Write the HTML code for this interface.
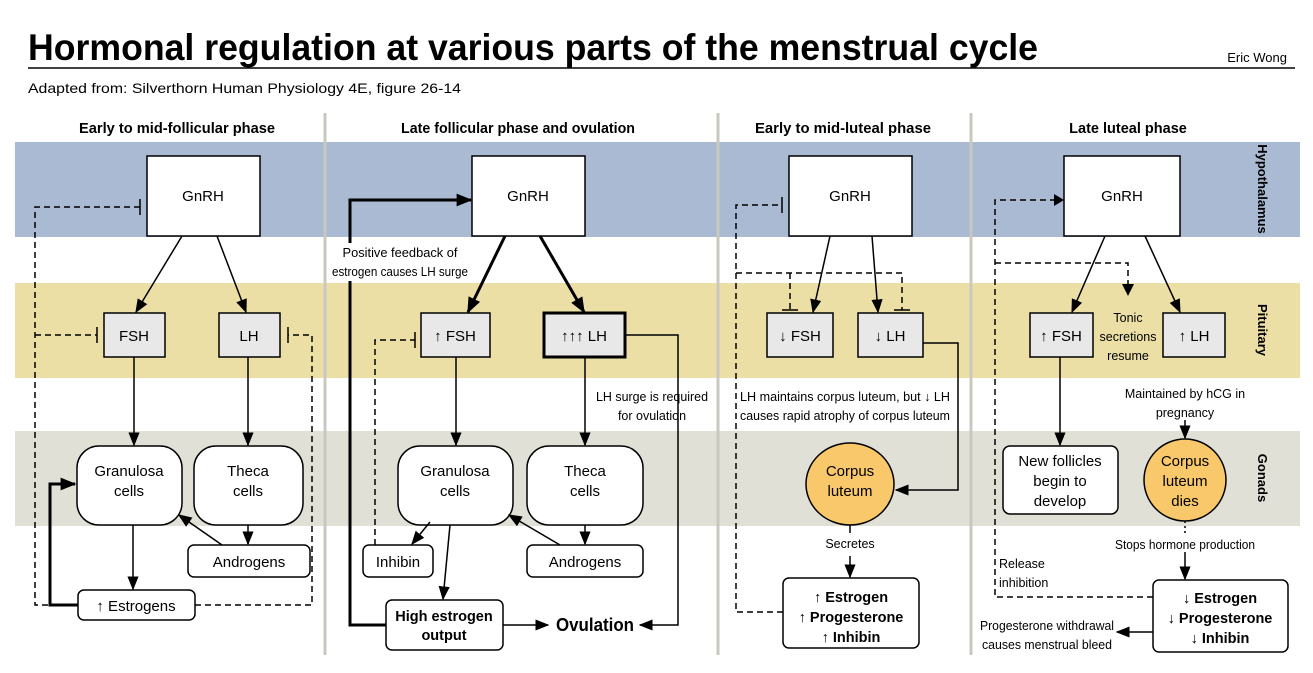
<!DOCTYPE html>
<html><head><meta charset="utf-8"><style>
html,body{margin:0;padding:0;background:#fff;}
svg{display:block;font-family:"Liberation Sans",sans-serif;}
</style></head><body>
<svg width="1313" height="673" viewBox="0 0 1313 673" xmlns="http://www.w3.org/2000/svg">
<defs>
<marker id="ab" viewBox="0 0 10 10" refX="9" refY="5" markerWidth="16" markerHeight="16" orient="auto" markerUnits="userSpaceOnUse"><path d="M0,1 L10,5 L0,9 z" fill="#000"/></marker>
<marker id="am" viewBox="0 0 10 10" refX="9" refY="5" markerWidth="14" markerHeight="14" orient="auto" markerUnits="userSpaceOnUse"><path d="M0,1 L10,5 L0,9 z" fill="#000"/></marker>
</defs>
<text x="28" y="60" font-size="37" font-weight="bold" textLength="1010" lengthAdjust="spacingAndGlyphs">Hormonal regulation at various parts of the menstrual cycle</text>
<text x="1287" y="62" font-size="13" text-anchor="end">Eric Wong</text>
<line x1="28" y1="68" x2="1295" y2="68" stroke="#000" stroke-width="1.5"/>
<text x="28" y="93" font-size="14" textLength="433" lengthAdjust="spacingAndGlyphs">Adapted from: Silverthorn Human Physiology 4E, figure 26-14</text>
<rect x="15" y="142" width="1285" height="95" fill="#aabad2"/>
<rect x="15" y="283" width="1285" height="95" fill="#ebdfa6"/>
<rect x="15" y="431" width="1285" height="95" fill="#e0e0d6"/>
<g stroke="#c8c8c0" stroke-width="3">
<line x1="325" y1="113" x2="325" y2="655"/><line x1="718" y1="113" x2="718" y2="655"/><line x1="971" y1="113" x2="971" y2="655"/>
</g>
<g font-size="14.5" font-weight="bold" text-anchor="middle">
<text x="177" y="133" textLength="196" lengthAdjust="spacingAndGlyphs">Early to mid-follicular phase</text>
<text x="518" y="133" textLength="234" lengthAdjust="spacingAndGlyphs">Late follicular phase and ovulation</text>
<text x="843" y="133" textLength="176" lengthAdjust="spacingAndGlyphs">Early to mid-luteal phase</text>
<text x="1128" y="133">Late luteal phase</text>
</g>
<g font-size="13" font-weight="bold" text-anchor="middle">
<text transform="translate(1258,189) rotate(90)">Hypothalamus</text>
<text transform="translate(1258,330) rotate(90)">Pituitary</text>
<text transform="translate(1258,478) rotate(90)">Gonads</text>
</g>
<g stroke="#000" stroke-width="1.5" fill="#fff">
<rect x="147" y="156" width="113" height="80"/>
<rect x="472" y="156" width="113" height="80"/>
<rect x="789" y="156" width="123" height="80"/>
<rect x="1064" y="156" width="116" height="80"/>
<g fill="#e8e8e8">
<rect x="104" y="313" width="61" height="44"/>
<rect x="219" y="313" width="61" height="44"/>
<rect x="421" y="313" width="69" height="44"/>
<rect x="544" y="313" width="81" height="44" stroke-width="3"/>
<rect x="767" y="313" width="66" height="44"/>
<rect x="858" y="313" width="65" height="44"/>
<rect x="1030" y="313" width="63" height="44"/>
<rect x="1163" y="313" width="62" height="44"/>
</g>
<rect x="77" y="446" width="105" height="79" rx="22"/>
<rect x="194" y="446" width="109" height="79" rx="22"/>
<rect x="398" y="446" width="115" height="79" rx="22"/>
<rect x="527" y="446" width="116" height="79" rx="22"/>
<rect x="188" y="545" width="122" height="32" rx="6"/>
<rect x="78" y="590" width="117" height="30" rx="6"/>
<rect x="363" y="545" width="70" height="32" rx="6"/>
<rect x="527" y="545" width="116" height="32" rx="6"/>
<rect x="386" y="600" width="117" height="50" rx="6"/>
<rect x="783" y="578" width="136" height="70" rx="6"/>
<rect x="1003" y="446" width="115" height="68" rx="7"/>
<rect x="1153" y="580" width="135" height="72" rx="6"/>
<ellipse cx="850" cy="484" rx="44" ry="41" fill="#f8c86a"/>
<ellipse cx="1185" cy="480" rx="41" ry="41" fill="#f8c86a"/>
</g>
<g stroke="#000" stroke-width="1.5" fill="none" marker-end="url(#am)">
<line x1="182" y1="236" x2="136" y2="312"/>
<line x1="217" y1="236" x2="246" y2="312"/>
<line x1="134" y1="357" x2="134" y2="445"/>
<line x1="248" y1="357" x2="248" y2="445"/>
<line x1="133" y1="525" x2="133" y2="589"/>
<line x1="248" y1="525" x2="248" y2="544"/>
<line x1="222" y1="545" x2="179" y2="515"/>
<line x1="456" y1="357" x2="456" y2="445"/>
<line x1="585" y1="357" x2="585" y2="445"/>
<line x1="430" y1="522" x2="412" y2="544"/>
<line x1="450" y1="525" x2="443" y2="599"/>
<line x1="585" y1="525" x2="585" y2="544"/>
<line x1="560" y1="545" x2="509" y2="515"/>
<line x1="503" y1="625" x2="548" y2="625"/>
<polyline points="625,335 678,335 678,625 640,625"/>
<line x1="830" y1="236" x2="813" y2="312"/>
<line x1="872" y1="236" x2="878" y2="312"/>
<polyline points="923,343 958,343 958,490 896,490"/>
<line x1="850" y1="556" x2="850" y2="577"/>
<line x1="1105" y1="236" x2="1072" y2="312"/>
<line x1="1145" y1="236" x2="1180" y2="312"/>
<line x1="1060" y1="357" x2="1060" y2="445"/>
<line x1="1185" y1="420" x2="1185" y2="438"/>
<line x1="1185" y1="552" x2="1185" y2="579"/>
<line x1="1153" y1="632" x2="1117" y2="632"/>
</g>
<line x1="850" y1="525" x2="850" y2="533" stroke="#000" stroke-width="1.5"/>
<line x1="1185" y1="521" x2="1185" y2="533" stroke="#000" stroke-width="1.5" stroke-dasharray="2,3"/>
<g stroke="#000" stroke-width="3" fill="none" marker-end="url(#ab)">
<line x1="505" y1="236" x2="468" y2="312"/>
<line x1="540" y1="236" x2="584" y2="312"/>
<polyline points="386,625 350,625 350,200 471,200"/>
<polyline points="78,605 50,605 50,484 75,484"/>
</g>
<g stroke="#000" stroke-width="1.5" fill="none" stroke-dasharray="6,4">
<polyline points="78,605 35,605 35,207 140,207"/>
<line x1="35" y1="335" x2="97" y2="335"/>
<polyline points="195,605 312,605 312,335 288,335"/>
<polyline points="375,545 375,340 415,340"/>
<polyline points="783,612 736,612 736,205 782,205"/>
<polyline points="736,273 902,273 902,310"/>
<line x1="790" y1="273" x2="790" y2="310"/>
<polyline points="1153,597 995,597 995,200 1055,200"/>
<polyline points="995,263 1128,263 1128,285"/>
</g>
<g stroke="#000" stroke-width="1.5">
<line x1="140" y1="199" x2="140" y2="215"/>
<line x1="97" y1="327" x2="97" y2="343"/>
<line x1="288" y1="327" x2="288" y2="343"/>
<line x1="415" y1="332" x2="415" y2="348"/>
<line x1="782" y1="197" x2="782" y2="213"/>
<line x1="782" y1="310" x2="798" y2="310"/>
<line x1="894" y1="310" x2="910" y2="310"/>
</g>
<path d="M1054,194 L1064,200 L1054,206 z"/><path d="M1122,284 L1128,296 L1134,284 z"/>
<rect x="332" y="243" width="136" height="38" fill="#fff"/>
<g font-size="15" text-anchor="middle">
<text x="203" y="201">GnRH</text><text x="528" y="201">GnRH</text><text x="850" y="201">GnRH</text><text x="1122" y="201">GnRH</text>
<text x="134" y="341">FSH</text><text x="249" y="341">LH</text>
<text x="455" y="341">↑ FSH</text><text x="584" y="341">↑↑↑ LH</text>
<text x="800" y="341">↓ FSH</text><text x="890" y="341">↓ LH</text>
<text x="1061" y="341">↑ FSH</text><text x="1194" y="341">↑ LH</text>
<text x="129" y="476">Granulosa</text><text x="129" y="496">cells</text>
<text x="248" y="476">Theca</text><text x="248" y="496">cells</text>
<text x="455" y="476">Granulosa</text><text x="455" y="496">cells</text>
<text x="585" y="476">Theca</text><text x="585" y="496">cells</text>
<text x="249" y="567">Androgens</text><text x="136" y="611">↑ Estrogens</text>
<text x="398" y="567">Inhibin</text><text x="585" y="567">Androgens</text>
<text x="850" y="476">Corpus</text><text x="850" y="496">luteum</text>
<text x="1185" y="466">Corpus</text><text x="1185" y="486">luteum</text><text x="1185" y="506">dies</text>
<text x="1060" y="466">New follicles</text><text x="1060" y="486">begin to</text><text x="1060" y="506">develop</text>
</g>
<g font-size="14.5" font-weight="bold" text-anchor="middle">
<text x="444" y="621">High estrogen</text><text x="444" y="640">output</text>
<text x="851" y="602">↑ Estrogen</text><text x="851" y="622">↑ Progesterone</text><text x="851" y="642">↑ Inhibin</text>
<text x="1220" y="603">↓ Estrogen</text><text x="1220" y="623">↓ Progesterone</text><text x="1220" y="643">↓ Inhibin</text>
</g>
<text x="556" y="631" font-size="18" font-weight="bold" textLength="78" lengthAdjust="spacingAndGlyphs">Ovulation</text>
<g font-size="12.5" text-anchor="middle">
<text x="400" y="257" textLength="115" lengthAdjust="spacingAndGlyphs">Positive feedback of</text><text x="400" y="276" textLength="136" lengthAdjust="spacingAndGlyphs">estrogen causes LH surge</text>
<text x="652" y="401" textLength="112" lengthAdjust="spacingAndGlyphs">LH surge is required</text><text x="652" y="420">for ovulation</text>
<text x="845" y="401" textLength="210" lengthAdjust="spacingAndGlyphs">LH maintains corpus luteum, but ↓ LH</text>
<text x="845" y="420" textLength="210" lengthAdjust="spacingAndGlyphs">causes rapid atrophy of corpus luteum</text>
<text x="850" y="548">Secretes</text>
<text x="1128" y="322">Tonic</text><text x="1128" y="341">secretions</text><text x="1128" y="360">resume</text>
<text x="1185" y="398">Maintained by hCG in</text><text x="1185" y="417">pregnancy</text>
<text x="1185" y="549" textLength="140" lengthAdjust="spacingAndGlyphs">Stops hormone production</text>
<text x="1047" y="630" textLength="134" lengthAdjust="spacingAndGlyphs">Progesterone withdrawal</text><text x="1047" y="649" textLength="130" lengthAdjust="spacingAndGlyphs">causes menstrual bleed</text>
</g>
<g font-size="12.5"><text x="999" y="568">Release</text><text x="999" y="587">inhibition</text></g>
</svg>
</body></html>
